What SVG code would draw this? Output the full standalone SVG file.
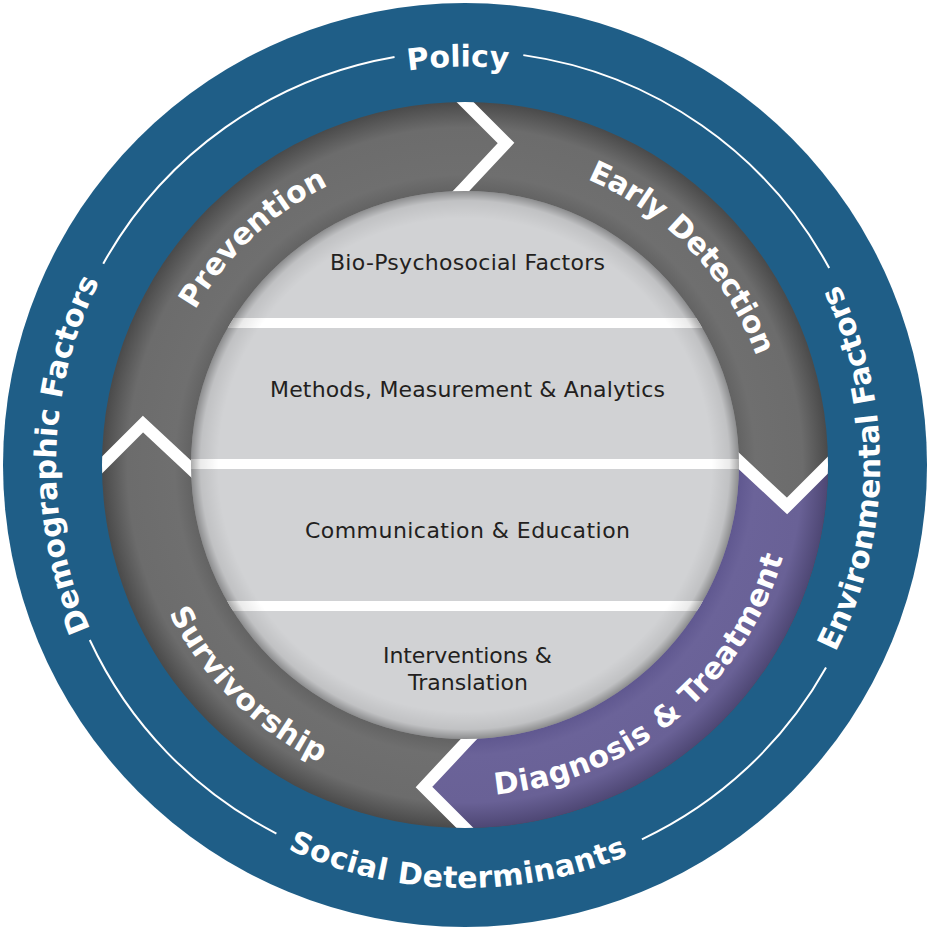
<svg xmlns="http://www.w3.org/2000/svg" width="929" height="930" viewBox="0 0 929 930">
<defs>
<style>
.lbl{font-family:'DejaVu Sans','Liberation Sans',sans-serif;font-weight:700;font-size:30px;fill:#ffffff;}
.row{font-family:'DejaVu Sans','Liberation Sans',sans-serif;font-weight:400;font-size:22px;fill:#231f20;}
.guide{fill:none;stroke:#ffffff;stroke-width:2;}
.chev{fill:none;stroke:#ffffff;stroke-width:12;stroke-linejoin:miter;stroke-miterlimit:10;}
.band{fill:#ffffff;}
</style>
<radialGradient id="ringGrad" gradientUnits="userSpaceOnUse" cx="465" cy="465" r="363">
<stop offset="0" stop-color="#6f6f6f"/>
<stop offset="0.755" stop-color="#636363"/>
<stop offset="0.80" stop-color="#6f6f6f"/>
<stop offset="0.93" stop-color="#6c6c6c"/>
<stop offset="1" stop-color="#4a4a4a"/>
</radialGradient>
<radialGradient id="purpleGrad" gradientUnits="userSpaceOnUse" cx="465" cy="465" r="363">
<stop offset="0" stop-color="#6b6399"/>
<stop offset="0.755" stop-color="#605890"/>
<stop offset="0.80" stop-color="#6b6399"/>
<stop offset="0.93" stop-color="#696196"/>
<stop offset="1" stop-color="#4e4774"/>
</radialGradient>
<radialGradient id="rimGrad" gradientUnits="userSpaceOnUse" cx="465" cy="465" r="274">
<stop offset="0" stop-color="#000000" stop-opacity="0"/>
<stop offset="0.90" stop-color="#000000" stop-opacity="0"/>
<stop offset="0.965" stop-color="#000000" stop-opacity="0.08"/>
<stop offset="1" stop-color="#000000" stop-opacity="0.33"/>
</radialGradient>
<clipPath id="ringClip"><circle cx="465" cy="465" r="363"/></clipPath>
<clipPath id="innerClip"><circle cx="465" cy="465" r="274"/></clipPath>
<path id="pPolicy" d="M66.96,401.96 A404,404 0 0 1 860.6,388.1"/>
<path id="pDemo" d="M383.46,865.79 A409,409 0 0 1 404.55,60.49"/>
<path id="pEnv" d="M533.50,874.31 A415,415 0 0 0 540.63,56.95"/>
<path id="pSocial" d="M47.21,531.17 A423,423 0 0 0 880.23,545.71"/>
<path id="pPrev" d="M204.47,634.84 A311,311 0 0 1 651.73,216.30"/>
<path id="pEarly" d="M292.44,206.26 A311,311 0 0 1 715.64,649.12"/>
<path id="pDiag" d="M250.47,717.07 A331,331 0 0 0 752.80,301.51"/>
<path id="pSurv" d="M192.71,276.81 A331,331 0 0 0 656.54,734.95"/>
<path id="chevTop" class="chev" d="M444,81 L464,101 L506,143 L463,189 L442,211"/>
</defs>

<g id="outer-ring">
<circle cx="465" cy="465" r="462" fill="#1f5e87"/>
</g>

<g id="connectors">
<path class="guide" d="M103.24,263.68 A414,414 0 0 1 394.53,57.04"/>
<path class="guide" d="M523.33,55.13 A414,414 0 0 1 829.18,268.09"/>
<path class="guide" d="M826.04,667.60 A414,414 0 0 1 641.93,839.29"/>
<path class="guide" d="M276.41,833.55 A414,414 0 0 1 89.79,639.96"/>
</g>

<g id="label-policy"><text class="lbl"><textPath href="#pPolicy" startOffset="50%" text-anchor="middle">Policy</textPath></text></g>
<g id="label-demographic"><text class="lbl" font-size="29.5"><textPath href="#pDemo" startOffset="50%" text-anchor="middle">Demographic Factors</textPath></text></g>
<g id="label-environmental"><text class="lbl"><textPath href="#pEnv" startOffset="50%" text-anchor="middle">Environmental Factors</textPath></text></g>
<g id="label-social"><text class="lbl" letter-spacing="0.45"><textPath href="#pSocial" startOffset="50%" text-anchor="middle">Social Determinants</textPath></text></g>

<g id="cycle-ring">
<circle cx="465" cy="465" r="363" fill="url(#ringGrad)"/>
<g id="segment-diagnosis-fill" clip-path="url(#ringClip)">
<path fill="url(#purpleGrad)" d="M719,442 L741,463 L787,506 L829,464 L849,444 L960,444 L960,960 L486,960 L486,849 L466,829 L424,787 L467,741 L488,719 L465,465 Z"/>
</g>
<g id="chevrons" clip-path="url(#ringClip)">
<use href="#chevTop"/>
<use href="#chevTop" transform="rotate(90 465 465)"/>
<use href="#chevTop" transform="rotate(180 465 465)"/>
<use href="#chevTop" transform="rotate(270 465 465)"/>
</g>
</g>

<g id="core">
<circle cx="465" cy="465" r="274" fill="#d1d2d4"/>
<g clip-path="url(#innerClip)">
<rect class="band" x="180" y="318" width="570" height="10"/>
<rect class="band" x="180" y="459" width="570" height="10"/>
<rect class="band" x="180" y="601" width="570" height="10"/>
</g>
<circle cx="465" cy="465" r="274" fill="url(#rimGrad)"/>
</g>

<g id="row-bio"><text class="row" x="467.5" y="270" text-anchor="middle" textLength="275" lengthAdjust="spacing">Bio-Psychosocial Factors</text></g>
<g id="row-methods"><text class="row" x="467.5" y="397" text-anchor="middle" textLength="395" lengthAdjust="spacing">Methods, Measurement &amp; Analytics</text></g>
<g id="row-communication"><text class="row" x="467.5" y="538" text-anchor="middle" textLength="325" lengthAdjust="spacing">Communication &amp; Education</text></g>
<g id="row-interventions"><text class="row" x="467.5" y="663" text-anchor="middle" textLength="169" lengthAdjust="spacing">Interventions &amp;</text><text class="row" x="468" y="690" text-anchor="middle" textLength="120" lengthAdjust="spacing">Translation</text></g>

<g id="segment-prevention"><text class="lbl"><textPath href="#pPrev" startOffset="50%" text-anchor="middle">Prevention</textPath></text></g>
<g id="segment-early-detection"><text class="lbl" letter-spacing="-0.6"><textPath href="#pEarly" startOffset="50%" text-anchor="middle">Early Detection</textPath></text></g>
<g id="segment-diagnosis"><text class="lbl" letter-spacing="0.5"><textPath href="#pDiag" startOffset="50%" text-anchor="middle">Diagnosis &amp; Treatment</textPath></text></g>
<g id="segment-survivorship"><text class="lbl" letter-spacing="0.3"><textPath href="#pSurv" startOffset="50%" text-anchor="middle">Survivorship</textPath></text></g>
</svg>
